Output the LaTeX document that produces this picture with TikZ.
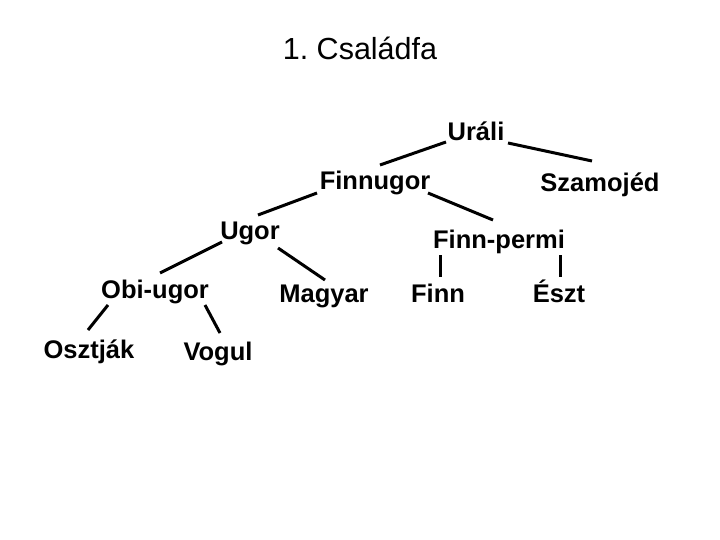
\documentclass[tikz,border=0pt]{standalone}
\usepackage{fontspec}
\setmainfont{Liberation Sans}
\begin{document}
\begin{tikzpicture}[x=1pt,y=-1pt,
  lang/.style={anchor=base,inner sep=0pt,font=\fontsize{25.5}{30}\selectfont\bfseries},
  titletext/.style={anchor=base,inner sep=0pt,font=\fontsize{30.5}{36}\selectfont},
  link/.style={line width=3pt,black}]
\useasboundingbox[fill=white] (0,0) rectangle (720,540);
\node[titletext] (title) at (360,60) {1.\ Családfa};
\node[lang] (urali) at (476,141) {Uráli};
\node[lang] (finnugor) at (375,190) {Finnugor};
\node[lang] (szamojed) at (600,192) {Szamojéd};
\node[lang] (ugor) at (250,240) {Ugor};
\node[lang] (finnpermi) at (499,248) {Finn-permi};
\node[lang] (obiugor) at (155,298) {Obi-ugor};
\node[lang] (magyar) at (324,302) {Magyar};
\node[lang] (finn) at (438,302) {Finn};
\node[lang] (eszt) at (559,302) {Észt};
\node[lang] (osztjak) at (89,358) {Osztják};
\node[lang] (vogul) at (218,360) {Vogul};
\draw[link] ([shift={(-30,1)}]urali.base) -- ([shift={(5,-25)}]finnugor.base);
\draw[link] ([shift={(32,2)}]urali.base) -- ([shift={(-8,-31)}]szamojed.base);
\draw[link] ([shift={(-58,3)}]finnugor.base) -- ([shift={(8,-25)}]ugor.base);
\draw[link] ([shift={(53,3)}]finnugor.base) -- ([shift={(-6,-28)}]finnpermi.base);
\draw[link] ([shift={(-28,2)}]ugor.base) -- ([shift={(5,-25)}]obiugor.base);
\draw[link] ([shift={(28,8)}]ugor.base) -- ([shift={(1,-22)}]magyar.base);
\draw[link] ([shift={(-59,7)}]finnpermi.base) -- ([shift={(2,-25)}]finn.base);
\draw[link] ([shift={(61,7)}]finnpermi.base) -- ([shift={(1,-25)}]eszt.base);
\draw[link] ([shift={(-47,7)}]obiugor.base) -- ([shift={(-1,-28)}]osztjak.base);
\draw[link] ([shift={(50,7)}]obiugor.base) -- ([shift={(2,-27)}]vogul.base);
\end{tikzpicture}
\end{document}
